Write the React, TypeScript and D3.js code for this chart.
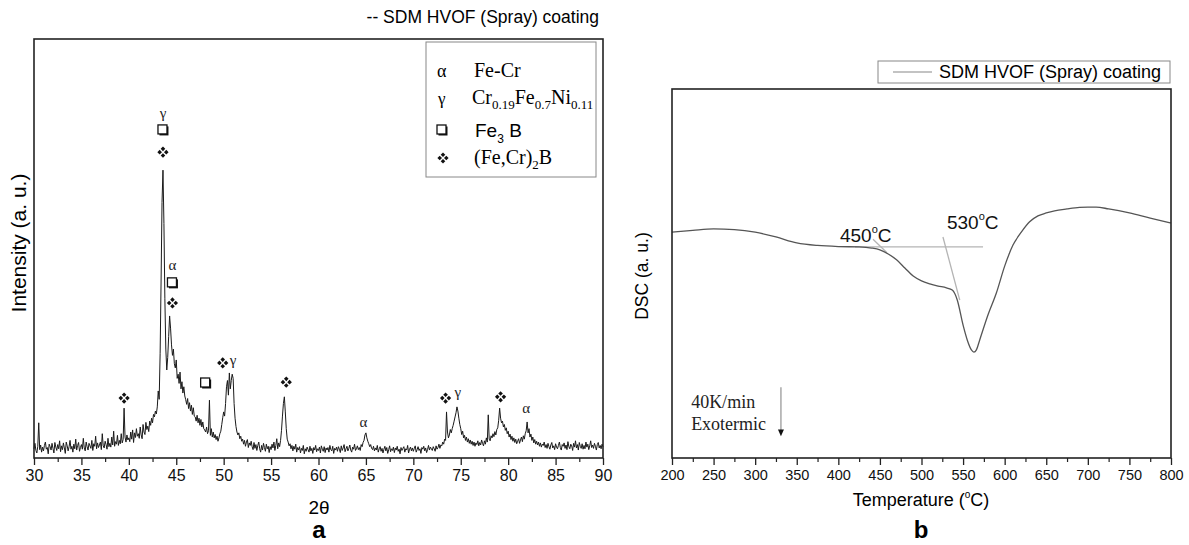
import React, { useRef, useEffect } from "react";
import * as d3 from "d3";

// XRD pattern, 2θ from 30 to 90 in 0.1° steps (intensity, a.u. x10)
const XRD_START = 30;
const XRD_STEP = 0.1;
const xrdIntensity = [
  22, 35, 18, 12, 28, 84, 20, 31, 14, 26,
  17, 30, 38, 21, 25, 10, 33, 27, 19, 35,
  23, 12, 37, 26, 18, 32, 22, 41, 15, 29,
  20, 36, 24, 11, 38, 29, 17, 27, 42, 21,
  28, 14, 33, 22, 45, 19, 30, 37, 16, 25,
  32, 21, 47, 24, 17, 38, 27, 19, 35, 29,
  23, 42, 18, 34, 28, 52, 22, 36, 25, 31,
  38, 20, 58, 29, 24, 40, 32, 21, 47, 27,
  35, 26, 50, 31, 64, 28, 39, 33, 54, 30,
  42, 34, 58, 36, 44, 119, 50, 38, 55, 43,
  48, 39, 62, 45, 67, 37, 60, 49, 70, 52,
  58, 47, 74, 55, 46, 80, 62, 56, 85, 68,
  76, 63, 88, 78, 95, 84, 104, 98, 112, 105,
  122, 160, 140, 250, 420, 610, 687, 560, 380, 260,
  210, 240, 290, 339, 310, 270, 245, 260, 225, 215,
  234, 190, 200, 178, 205, 165, 182, 155, 170, 148,
  139, 128, 142, 118, 132, 112, 126, 104, 120, 100,
  98, 88, 102, 84, 95, 78, 92, 74, 86, 70,
  67, 62, 74, 58, 65, 138, 54, 70, 50, 62,
  48, 56, 44, 52, 40, 48, 58, 64, 80, 96,
  110, 100, 130, 170, 185, 150, 203, 165, 185, 200,
  190, 130, 95, 75, 62, 55, 60, 46, 52, 40,
  45, 33, 42, 28, 38, 44, 25, 36, 30, 40,
  27, 20, 37, 23, 32, 18, 30, 38, 22, 14,
  30, 19, 35, 25, 16, 33, 22, 28, 13, 27,
  20, 33, 24, 38, 18, 30, 46, 22, 36, 27,
  42, 66, 100, 130, 146, 110, 70, 45, 38, 29,
  34, 22, 30, 17, 28, 21, 33, 14, 25, 19,
  27, 12, 23, 18, 30, 10, 22, 16, 26, 20,
  14, 28, 17, 23, 11, 25, 19, 30, 15, 22,
  18, 26, 12, 29, 21, 16, 27, 13, 24, 19,
  25, 14, 30, 20, 17, 28, 11, 23, 19, 26,
  16, 27, 21, 13, 29, 18, 24, 32, 15, 22,
  28, 17, 23, 31, 19, 14, 26, 21, 33, 18,
  22, 29, 20, 25, 18, 32, 27, 37, 42, 55,
  60, 48, 40, 34, 27, 32, 23, 20, 28, 17,
  24, 19, 30, 14, 22, 27, 16, 23, 12, 21,
  28, 17, 25, 11, 20, 29, 15, 22, 18, 26,
  13, 24, 19, 28, 16, 21, 10, 25, 18, 23,
  27, 14, 22, 19, 30, 12, 21, 26, 17, 24,
  16, 23, 29, 14, 20, 27, 18, 22, 11, 25,
  21, 28, 17, 24, 13, 20, 30, 19, 26, 22,
  18, 27, 22, 16, 29, 21, 25, 33, 23, 31,
  29, 38, 33, 45, 42, 110, 62, 48, 55, 68,
  60, 70, 78, 88, 98, 108, 122, 112, 95, 80,
  70, 56, 64, 48, 54, 42, 50, 38, 46, 35,
  43, 33, 40, 30, 38, 28, 36, 32, 41, 29,
  37, 31, 43, 35, 29, 41, 33, 48, 38, 103,
  45, 41, 53, 48, 58, 51, 63, 55, 68, 72,
  90, 119, 95, 84, 88, 74, 80, 66, 72, 58,
  64, 50, 57, 44, 52, 40, 48, 37, 45, 34,
  40, 46, 35, 43, 50, 39, 53, 45, 58, 65,
  86, 60, 70, 50, 57, 42, 50, 36, 44, 33,
  40, 31, 38, 28, 36, 26, 33, 30, 38, 25,
  32, 23, 35, 27, 21, 31, 37, 24, 29, 20,
  34, 26, 22, 30, 38, 25, 19, 32, 28, 36,
  23, 31, 20, 39, 27, 22, 33, 29, 18, 35,
  26, 41, 24, 32, 19, 37, 28, 23, 34, 21,
  30, 22, 38, 26, 33, 20, 29, 41, 25, 31,
  23, 35, 28, 19, 32, 37, 24, 30, 22, 33,
  27,
];
const xrdTicks = [30, 35, 40, 45, 50, 55, 60, 65, 70, 75, 80, 85, 90];

// phase markers on the pattern: [2θ, height, symbol]
const xrdMarks: [number, number, string][] = [
  [43.6, 823, "γ"], [43.6, 783, "sq"], [43.6, 730, "dia"],
  [44.6, 461, "α"], [44.6, 418, "sq"], [44.6, 370, "dia"],
  [39.5, 143, "dia"],
  [48.1, 179, "sq"],
  [49.9, 227, "dia"], [51.0, 233, "γ"],
  [56.6, 181, "dia"],
  [64.75, 86, "α"],
  [73.4, 143, "dia"], [74.7, 157, "γ"],
  [79.2, 146, "dia"],
  [81.9, 119, "α"],
];

// DSC curve: temperature (°C) and signal (a.u.)
const dscTemp = [200, 225, 250, 275, 300, 325, 350, 375, 400, 425, 440, 450, 460, 470, 480, 490, 500, 510, 520, 530, 537, 543, 550, 555, 560, 563, 566, 570, 580, 590, 600, 610, 620, 630, 640, 650, 660, 675, 690, 700, 710, 725, 750, 775, 800];
const dscSignal = [61.2, 61.7, 62.1, 61.9, 61.2, 59.9, 58.3, 57.6, 57.3, 57.2, 56.9, 56.4, 55.3, 53.7, 51.5, 49.3, 48.0, 47.2, 46.6, 46.1, 45.5, 42.8, 36.0, 32.0, 29.3, 28.7, 29.3, 32.0, 38.8, 44.7, 52.0, 57.7, 61.2, 64.0, 65.6, 66.4, 67.0, 67.5, 67.9, 68.0, 68.0, 67.5, 66.4, 65.0, 63.7];
const dscTicks = [200, 250, 300, 350, 400, 450, 500, 550, 600, 650, 700, 750, 800];

// onset construction lines [t1, s1, t2, s2]
const onsetLines = [
  [420, 57.2, 574, 57.2],
  [441.7, 59.3, 458.5, 55.6],
  [525.8, 59.9, 546, 42.8],
];
const onsetLabels: [number, number, string][] = [
  [402, 58.5, "450"],
  [530.6, 62.1, "530"],
];

const SANS = "'Liberation Sans', Arial, sans-serif";
const SERIF = "'Liberation Serif', 'Times New Roman', serif";

const drawSquare = (g, cx, cy) => {
  g.append("rect").attr("x", cx - 3.5).attr("y", cy - 3.5).attr("width", 9).attr("height", 9).attr("fill", "#111");
  g.append("rect").attr("x", cx - 5).attr("y", cy - 5).attr("width", 9).attr("height", 9)
    .attr("fill", "white").attr("stroke", "#111").attr("stroke-width", 1.3);
};

const drawDiamonds = (g, cx, cy) => {
  const d = 3.3;
  [[0, -d], [d, 0], [0, d], [-d, 0]].forEach(([dx, dy]) => {
    g.append("path")
      .attr("d", `M${cx + dx},${cy + dy - 2.3}L${cx + dx + 2.3},${cy + dy}L${cx + dx},${cy + dy + 2.3}L${cx + dx - 2.3},${cy + dy}Z`)
      .attr("fill", "#111");
  });
};

const App = () => {
  const svgRef = useRef(null);

  useEffect(() => {
    document.body.style.margin = "0";
    const svg = d3.select(svgRef.current);
    svg.selectAll("*").remove();

    // ---------- panel a: XRD ----------
    const ax = d3.scaleLinear().domain([30, 90]).range([34, 603]);
    const ay = d3.scaleLinear().domain([0, 1000]).range([458, 39]);
    const ga = svg.append("g");

    const xrdLine = d3.line<number>()
      .x((d, i) => ax(XRD_START + i * XRD_STEP))
      .y((d) => ay(d));
    ga.append("path")
      .datum(xrdIntensity)
      .attr("fill", "none")
      .attr("stroke", "#1a1a1a")
      .attr("stroke-width", 1)
      .attr("d", xrdLine);

    ga.append("rect")
      .attr("x", 34).attr("y", 39).attr("width", 569).attr("height", 419)
      .attr("fill", "none").attr("stroke", "#222").attr("stroke-width", 1.6);

    const axisA = ga.append("g").attr("transform", "translate(0,458)")
      .call(d3.axisBottom(ax).tickValues(xrdTicks).tickSize(7).tickPadding(5));
    axisA.select(".domain").remove();
    axisA.selectAll("text").attr("font-family", SANS).attr("font-size", 16).attr("fill", "#111");
    axisA.selectAll("line").attr("stroke", "#222").attr("stroke-width", 1.3);
    ga.append("g").attr("transform", "translate(0,458)")
      .call(d3.axisBottom(ax).tickValues(xrdTicks.slice(0, -1).map((t) => t + 2.5)).tickSize(4).tickFormat(() => ""))
      .call((g) => g.select(".domain").remove())
      .selectAll("line").attr("stroke", "#222").attr("stroke-width", 1.2);

    xrdMarks.forEach(([t, h, s]) => {
      const cx = ax(t);
      const cy = ay(h);
      if (s === "sq") drawSquare(ga, cx, cy);
      else if (s === "dia") drawDiamonds(ga, cx, cy);
      else
        ga.append("text").attr("x", cx).attr("y", cy + 5).attr("text-anchor", "middle")
          .attr("font-family", SERIF).attr("font-size", 15).attr("fill", "#222").text(s);
    });

    // legend of panel a
    ga.append("rect")
      .attr("x", 426).attr("y", 42).attr("width", 170).attr("height", 135)
      .attr("fill", "white").attr("stroke", "#888").attr("stroke-width", 1);
    ga.append("text").attr("x", 437).attr("y", 77).attr("font-family", SERIF).attr("font-size", 18).text("α");
    ga.append("text").attr("x", 474).attr("y", 77).attr("font-family", SERIF).attr("font-size", 20).text("Fe-Cr");
    ga.append("text").attr("x", 438).attr("y", 104).attr("font-family", SERIF).attr("font-size", 17).text("γ");
    const gam = ga.append("text").attr("x", 472).attr("y", 104).attr("font-family", SERIF).attr("font-size", 20);
    [["Cr", false], ["0.19", true], ["Fe", false], ["0.7", true], ["Ni", false], ["0.11", true]].forEach(([t, sub]) => {
      gam.append("tspan").attr("font-size", sub ? 13 : 20).attr("dy", sub ? 5 : -5).text(t as string);
    });
    gam.select("tspan").attr("dy", 0);
    drawSquare(ga, 442, 130);
    const fe3 = ga.append("text").attr("x", 475).attr("y", 137).attr("font-family", SANS).attr("font-size", 19);
    fe3.append("tspan").text("Fe");
    fe3.append("tspan").attr("font-size", 12).attr("dy", 6).text("3");
    fe3.append("tspan").attr("dy", -6).text(" B");
    drawDiamonds(ga, 443, 158);
    const fecr = ga.append("text").attr("x", 474).attr("y", 164).attr("font-family", SERIF).attr("font-size", 20);
    fecr.append("tspan").text("(Fe,Cr)");
    fecr.append("tspan").attr("font-size", 13).attr("dy", 5).text("2");
    fecr.append("tspan").attr("dy", -5).text("B");

    ga.append("text").attr("x", 599).attr("y", 23).attr("text-anchor", "end")
      .attr("font-family", SANS).attr("font-size", 17.5).text("-- SDM HVOF (Spray) coating");
    ga.append("text").attr("transform", "translate(26,243) rotate(-90)").attr("text-anchor", "middle")
      .attr("font-family", SANS).attr("font-size", 21).text("Intensity (a. u.)");
    ga.append("text").attr("x", 319).attr("y", 514).attr("text-anchor", "middle")
      .attr("font-family", SANS).attr("font-size", 19).text("2θ");
    ga.append("text").attr("x", 319).attr("y", 538).attr("text-anchor", "middle")
      .attr("font-family", SANS).attr("font-weight", "bold").attr("font-size", 24).text("a");

    // ---------- panel b: DSC ----------
    const bx = d3.scaleLinear().domain([200, 800]).range([672, 1171]);
    const by = d3.scaleLinear().domain([0, 100]).range([458, 89]);
    const gb = svg.append("g");

    onsetLines.forEach(([t1, s1, t2, s2]) => {
      gb.append("line")
        .attr("x1", bx(t1)).attr("y1", by(s1)).attr("x2", bx(t2)).attr("y2", by(s2))
        .attr("stroke", "#b4b4b4").attr("stroke-width", 1.3);
    });

    const dscLine = d3.line<number>()
      .x((d, i) => bx(dscTemp[i]))
      .y((d) => by(d))
      .curve(d3.curveMonotoneX);
    gb.append("path")
      .datum(dscSignal)
      .attr("fill", "none")
      .attr("stroke", "#555")
      .attr("stroke-width", 1.3)
      .attr("d", dscLine);

    gb.append("rect")
      .attr("x", 672).attr("y", 89).attr("width", 499).attr("height", 369)
      .attr("fill", "none").attr("stroke", "#222").attr("stroke-width", 1.6);

    const axisB = gb.append("g").attr("transform", "translate(0,458)")
      .call(d3.axisBottom(bx).tickValues(dscTicks).tickSize(7).tickPadding(5));
    axisB.select(".domain").remove();
    axisB.selectAll("text").attr("font-family", SANS).attr("font-size", 14.5).attr("fill", "#111");
    axisB.selectAll("line").attr("stroke", "#222").attr("stroke-width", 1.3);
    gb.append("g").attr("transform", "translate(0,458)")
      .call(d3.axisBottom(bx).tickValues(dscTicks.slice(0, -1).map((t) => t + 25)).tickSize(4).tickFormat(() => ""))
      .call((g) => g.select(".domain").remove())
      .selectAll("line").attr("stroke", "#222").attr("stroke-width", 1.2);

    onsetLabels.forEach(([t, s, lab]) => {
      const tx = gb.append("text").attr("x", bx(t)).attr("y", by(s))
        .attr("font-family", SANS).attr("font-size", 19).attr("fill", "#111");
      tx.append("tspan").text(lab);
      tx.append("tspan").attr("font-size", 11).attr("dy", -9).text("o");
      tx.append("tspan").attr("dy", 9).text("C");
    });

    // heating-rate note with arrow
    gb.append("text").attr("x", bx(223)).attr("y", by(13.6))
      .attr("font-family", SERIF).attr("font-size", 18).attr("fill", "#222").text("40K/min");
    gb.append("text").attr("x", bx(223)).attr("y", by(7.6))
      .attr("font-family", SERIF).attr("font-size", 18).attr("fill", "#222").text("Exotermic");
    gb.append("line").attr("x1", bx(331)).attr("y1", by(19.2)).attr("x2", bx(331)).attr("y2", by(7.5))
      .attr("stroke", "#888").attr("stroke-width", 1.1);
    gb.append("path")
      .attr("d", `M${bx(331) - 3},${by(7.7)}L${bx(331) + 3},${by(7.7)}L${bx(331)},${by(5.9)}Z`)
      .attr("fill", "#111");

    // legend of panel b
    gb.append("rect").attr("x", 878).attr("y", 61).attr("width", 292).attr("height", 22)
      .attr("fill", "white").attr("stroke", "#888").attr("stroke-width", 1);
    gb.append("line").attr("x1", 893).attr("x2", 932).attr("y1", 72).attr("y2", 72)
      .attr("stroke", "#888").attr("stroke-width", 1.2);
    gb.append("text").attr("x", 939).attr("y", 78).attr("font-family", SANS).attr("font-size", 18)
      .text("SDM HVOF (Spray) coating");

    gb.append("text").attr("transform", "translate(648,276) rotate(-90)").attr("text-anchor", "middle")
      .attr("font-family", SANS).attr("font-size", 17.5).text("DSC (a. u.)");
    const tt = gb.append("text").attr("x", 921).attr("y", 506).attr("text-anchor", "middle")
      .attr("font-family", SANS).attr("font-size", 18);
    tt.append("tspan").text("Temperature (");
    tt.append("tspan").attr("font-size", 10).attr("dy", -8).text("o");
    tt.append("tspan").attr("dy", 8).text("C)");
    gb.append("text").attr("x", 921).attr("y", 538).attr("text-anchor", "middle")
      .attr("font-family", SANS).attr("font-weight", "bold").attr("font-size", 24).text("b");
  }, []);

  return <svg ref={svgRef} width={1189} height={545} style={{ display: "block", background: "white" }} />;
};

export default App;
